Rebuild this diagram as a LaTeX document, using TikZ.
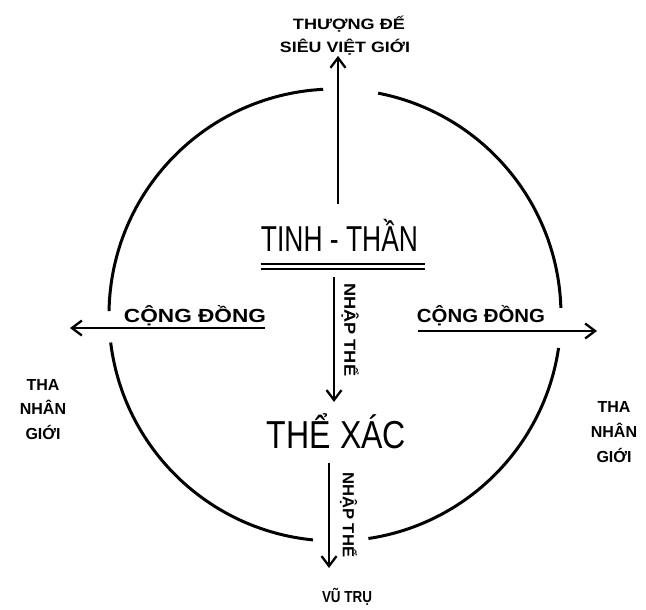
\documentclass[tikz,border=0pt]{standalone}
\usepackage{fontspec}
\setmainfont{Liberation Sans}
\usetikzlibrary{arrows.meta}
\newcommand{\fitw}[2]{\resizebox{#1}{\height}{#2}}
\begin{document}
\begin{tikzpicture}[x=1pt,y=1pt,
  circ/.style={line width=3pt},
  arr/.style={line width=2.3pt,-{Straight Barb[length=10pt,width=15pt]}},
  uline/.style={line width=2pt},
  lbl/.style={inner sep=0pt,anchor=base,font=\bfseries\fontsize{15}{18}\selectfont},
  side/.style={inner sep=0pt,anchor=base,font=\bfseries\fontsize{16}{19}\selectfont},
  big/.style={inner sep=0pt,anchor=base,font=\fontsize{36}{40}\selectfont},
  cd/.style={inner sep=0pt,anchor=base,font=\bfseries\fontsize{19}{22}\selectfont},
  vlbl/.style={inner sep=0pt,anchor=west,rotate=-90,font=\bfseries\fontsize{16}{19}\selectfont}]
\useasboundingbox (0,0) rectangle (646,-610);
\fill[white] (0,0) rectangle (646,-610);
% circle in four arcs
\coordinate (C) at (335,-315);
\draw[circ] (C) ++(1.8:226) arc[start angle=1.8,end angle=79,radius=226];
\draw[circ] (C) ++(93:226) arc[start angle=93,end angle=179,radius=226];
\draw[circ] (C) ++(187:226) arc[start angle=187,end angle=264.4,radius=226];
\draw[circ] (C) ++(278.5:226) arc[start angle=278.5,end angle=351.6,radius=226];
% texts
\node[lbl] (top1) at (349,-30) {\fitw{112pt}{THƯỢNG ĐẾ}};
\node[lbl] (top2) at (345,-53) {\fitw{130pt}{SIÊU VIỆT GIỚI}};
\node[big] (tt) at (339.5,-251) {\fitw{157pt}{TINH - THẦN}};
\node[big,font=\fontsize{39}{44}\selectfont] (tx) at (336.5,-448) {\fitw{139pt}{THỂ XÁC}};
\node[cd] (cdl) at (195,-322) {\fitw{142pt}{CỘNG ĐỒNG}};
\node[cd] (cdr) at (481,-322) {\fitw{128pt}{CỘNG ĐỒNG}};
\node[lbl,font=\bfseries\fontsize{16}{19}\selectfont] (vt) at (347,-602) {\fitw{50pt}{VŨ TRỤ}};
\node[side] (l1) at (43,-390) {THA};
\node[side] (l2) at (43,-414) {NHÂN};
\node[side] (l3) at (43,-439) {GIỚI};
\node[side] (r1) at (614,-412) {THA};
\node[side] (r2) at (614,-437) {NHÂN};
\node[side] (r3) at (614,-462) {GIỚI};
\node[vlbl] (np1) at (350,-283) {\fitw{93pt}{NHẬP THỂ}};
\node[vlbl] (np2) at (348.5,-472) {\fitw{85pt}{NHẬP THỂ}};
% double underline
\coordinate (u1) at (261,-263.5); \coordinate (u2) at (425,-263.5);
\coordinate (u3) at (261,-268.8); \coordinate (u4) at (425,-268.8);
\draw[uline] (u1) -- (u2);
\draw[uline] (u3) -- (u4);
% arrows
\coordinate (ts) at (338,-204);
\draw[arr] (ts) -- (ts |- top2.south);
\coordinate (ms) at (334,-277); \coordinate (me) at (334,-402);
\draw[arr] (ms) -- (me);
\coordinate (bs) at (329,-463); \coordinate (be) at (329,-568);
\draw[arr] (bs) -- (be);
\coordinate (ls) at (265,-328); \coordinate (le) at (70,-328);
\draw[arr] (ls) -- (le);
\coordinate (rs) at (418,-331); \coordinate (re) at (597,-331);
\draw[arr] (rs) -- (re);
\end{tikzpicture}
\end{document}
